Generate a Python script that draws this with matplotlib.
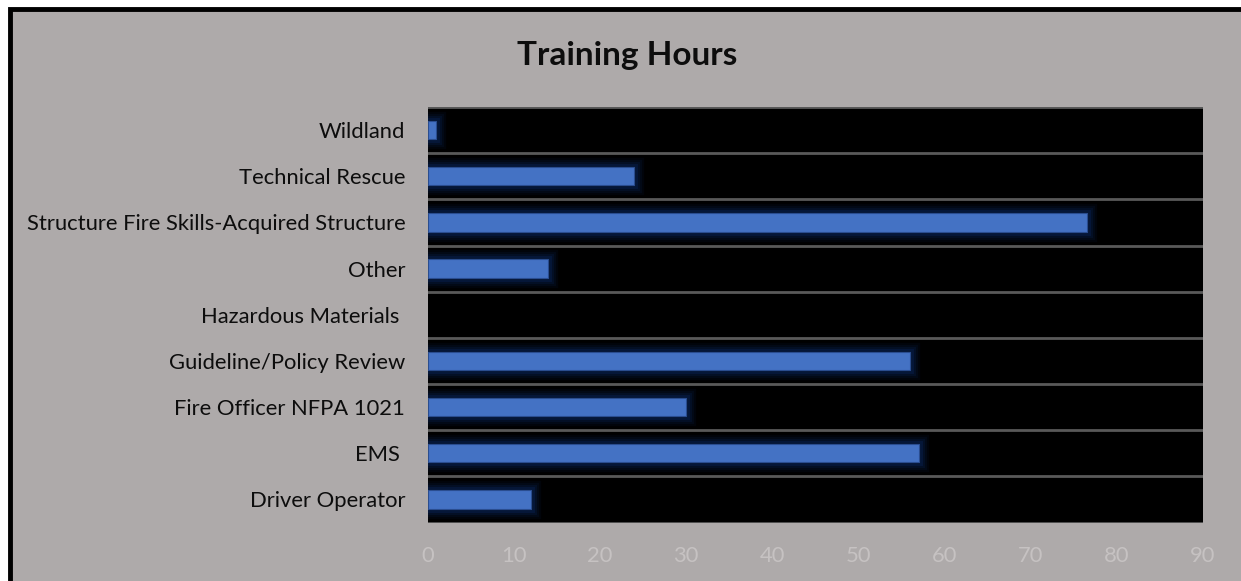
import numpy as np
import matplotlib
matplotlib.use("Agg")
import matplotlib.pyplot as plt
import matplotlib.patheffects as pe
from matplotlib.patches import Rectangle

plt.rcParams['font.family'] = ['Lato', 'DejaVu Sans']

# data, bottom to top as drawn
categories = ['Driver Operator', 'EMS ', 'Fire Officer NFPA 1021', 'Guideline/Policy Review',
              'Hazardous Materials ', 'Other', 'Structure Fire Skills-Acquired Structure',
              'Technical Rescue', 'Wildland']
hours = [12, 57, 30, 56, 0, 14, 76.5, 24, 1]
xticks = list(range(0, 100, 10))

bg = '#aeaaaa'
bar_color = '#4472c4'

fig = plt.figure(figsize=(12.41, 5.81), dpi=100, facecolor='white')
# chart area with black frame (only left/top edge visible)
fig.patches.append(Rectangle((10 / 1241, -0.1), 1.2, 1 - 9 / 581 + 0.1,
                             transform=fig.transFigure, facecolor=bg,
                             edgecolor='black', linewidth=3.5, zorder=-1))

ax = fig.add_axes([427.5 / 1241, 1 - 522.5 / 581, (1203 - 427.5) / 1241, (522.5 - 107) / 581])
ax.set_facecolor('black')

y = np.arange(len(categories))
# soft glow round each bar
glow = [pe.Stroke(linewidth=w, foreground='#0b2a66', alpha=a)
        for w, a in [(14, 0.10), (11, 0.14), (8, 0.2), (5, 0.3)]] + [pe.Normal()]
bars = ax.barh(y, hours, height=0.4, color=bar_color, edgecolor='#2a4d8f',
               linewidth=0.8, zorder=3)
for b, v in zip(bars, hours):
    if v > 0:
        b.set_path_effects(glow)
    else:
        b.set_visible(False)

for g in np.arange(-0.5, len(categories), 1.0):
    ax.axhline(g, color='#595959', linewidth=2, zorder=2)

ax.set_xlim(0, 90)
ax.set_ylim(-0.5, len(categories) - 0.5)
ax.set_xticks(xticks)
ax.set_yticks(y)
ax.set_yticklabels(categories)
ax.tick_params(axis='y', length=0, pad=16, labelsize=15.8, labelcolor='#0d0d0d')
ax.tick_params(axis='x', length=0, pad=17, labelsize=15.8, labelcolor='#c6c2c2')
for s in ax.spines.values():
    s.set_visible(False)

fig.text(627 / 1241, 1 - 55 / 581, 'Training Hours', ha='center', va='center',
         fontsize=24, fontweight='bold', color='#0d0d0d')

fig.savefig('out.png', dpi=100, facecolor=fig.get_facecolor())
